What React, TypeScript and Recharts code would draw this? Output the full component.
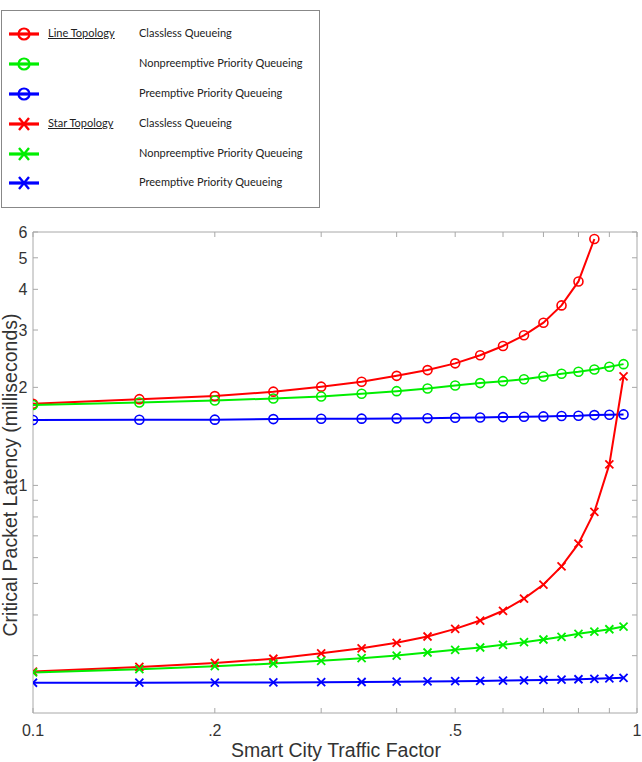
import React from 'react';
import { LineChart, Line, XAxis, YAxis, ReferenceArea } from 'recharts';

// traffic factor sample points (x)
const traffic = [0.1, 0.15, 0.2, 0.25, 0.3, 0.35, 0.4, 0.45, 0.5, 0.55, 0.6, 0.65, 0.7, 0.75, 0.8, 0.85, 0.9, 0.95];

// latency in ms, line topology
const lineClassless = [1.78, 1.84, 1.88, 1.94, 2.01, 2.08, 2.17, 2.26, 2.37, 2.51, 2.68, 2.89, 3.16, 3.57, 4.23, 5.71];
const lineNonpreemptive = [1.765, 1.797, 1.823, 1.849, 1.875, 1.911, 1.947, 1.983, 2.026, 2.061, 2.09, 2.119, 2.159, 2.201, 2.233, 2.27, 2.313, 2.357];
const linePreemptive = [1.588, 1.59, 1.592, 1.598, 1.602, 1.603, 1.606, 1.608, 1.613, 1.617, 1.621, 1.625, 1.629, 1.633, 1.636, 1.644, 1.648, 1.652];

// latency in ms, star topology
const starClassless = [0.268, 0.277, 0.285, 0.2935, 0.305, 0.316, 0.3285, 0.3435, 0.3626, 0.3846, 0.412, 0.449, 0.496, 0.564, 0.6625, 0.829, 1.16, 2.16];
const starNonpreemptive = [0.2665, 0.2727, 0.2785, 0.2838, 0.2893, 0.2946, 0.3003, 0.3068, 0.3127, 0.3178, 0.3239, 0.33, 0.3363, 0.3428, 0.35, 0.3558, 0.3616, 0.3686];
const starPreemptive = [0.2477, 0.2478, 0.248, 0.2482, 0.2486, 0.249, 0.2495, 0.25, 0.2505, 0.251, 0.2515, 0.252, 0.2526, 0.2532, 0.2539, 0.2547, 0.2555, 0.2564];

const xMajorTicks = [0.1, 0.2, 0.5, 1];
const xTickLabels = ['0.1', '.2', '.5', '1'];
const xMinorTicks = [0.3, 0.4, 0.6, 0.7, 0.8, 0.9];
const yMajorTicks = [1, 2, 3, 4, 5, 6];
const yTickLabels = ['1', '2', '3', '4', '5', '6'];
const yMinorTicks = [0.3, 0.4, 0.5, 0.6, 0.7, 0.8, 0.9];

const RED = '#ff0000';
const GREEN = '#00ee00';
const BLUE = '#0000ff';

const series = [
  { key: 'lineClassless', values: lineClassless, color: RED, marker: 'o', group: 'Line Topology', name: 'Classless Queueing' },
  { key: 'lineNonpreemptive', values: lineNonpreemptive, color: GREEN, marker: 'o', group: '', name: 'Nonpreemptive Priority Queueing' },
  { key: 'linePreemptive', values: linePreemptive, color: BLUE, marker: 'o', group: '', name: 'Preemptive Priority Queueing' },
  { key: 'starClassless', values: starClassless, color: RED, marker: 'x', group: 'Star Topology', name: 'Classless Queueing' },
  { key: 'starNonpreemptive', values: starNonpreemptive, color: GREEN, marker: 'x', group: '', name: 'Nonpreemptive Priority Queueing' },
  { key: 'starPreemptive', values: starPreemptive, color: BLUE, marker: 'x', group: '', name: 'Preemptive Priority Queueing' },
];

const data = traffic.map((t, i) => {
  const row: Record<string, number | undefined> = { traffic: t };
  series.forEach((s) => {
    row[s.key] = s.values[i];
  });
  return row;
});

const W = 642;
const H = 762;
const PLOT = { left: 33, top: 232, right: 637, bottom: 713 };
const TICK_LEN = 5;
const FRAME = '#a8a8a8';
const LABEL_FONT = '"Liberation Sans", Arial, sans-serif';

const makeDot = (color: string, marker: string) => (props: any) => {
  const { cx, cy, index } = props;
  if (cx == null || cy == null || Number.isNaN(cy)) return <g key={`d-${index}`} />;
  if (marker === 'o') {
    return <circle key={`d-${index}`} cx={cx} cy={cy} r={4.5} fill="none" stroke={color} strokeWidth={1.6} />;
  }
  const s = 4;
  return (
    <path
      key={`d-${index}`}
      d={`M${cx - s},${cy - s}L${cx + s},${cy + s}M${cx - s},${cy + s}L${cx + s},${cy - s}`}
      stroke={color}
      strokeWidth={1.8}
      fill="none"
    />
  );
};

const XTick = (props: any) => {
  const { x, payload } = props;
  const idx = xMajorTicks.indexOf(payload.value);
  return (
    <g>
      <line x1={x} x2={x} y1={PLOT.bottom} y2={PLOT.bottom - TICK_LEN} stroke={FRAME} />
      <line x1={x} x2={x} y1={PLOT.top} y2={PLOT.top + TICK_LEN} stroke={FRAME} />
      {idx >= 0 && (
        <text x={x} y={736} textAnchor="middle" fontSize={16} fontFamily={LABEL_FONT} fill="#333">
          {xTickLabels[idx]}
        </text>
      )}
    </g>
  );
};

const YTick = (props: any) => {
  const { y, payload } = props;
  const idx = yMajorTicks.indexOf(payload.value);
  return (
    <g>
      <line x1={PLOT.left} x2={PLOT.left + TICK_LEN} y1={y} y2={y} stroke={FRAME} />
      <line x1={PLOT.right} x2={PLOT.right - TICK_LEN} y1={y} y2={y} stroke={FRAME} />
      {idx >= 0 && (
        <text x={27.5} y={y + 6} textAnchor="end" fontSize={16} fontFamily={LABEL_FONT} fill="#333">
          {yTickLabels[idx]}
        </text>
      )}
    </g>
  );
};

const LegendIcon = ({ color, marker }: { color: string; marker: string }) => (
  <svg width={34} height={16} style={{ position: 'absolute', left: 5, top: -8 }}>
    <line x1={2} x2={32} y1={8} y2={8} stroke={color} strokeWidth={3.2} />
    {marker === 'o' ? (
      <circle cx={17} cy={8} r={5.5} fill="none" stroke={color} strokeWidth={2.2} />
    ) : (
      <path d="M12,2L22,14M12,14L22,2" stroke={color} strokeWidth={2.4} fill="none" />
    )}
  </svg>
);

const rowTops = [33, 63, 93, 123, 153, 182];

const LegendBox = () => (
  <div
    style={{
      position: 'absolute',
      left: 1,
      top: 10,
      width: 317,
      height: 196,
      border: '1px solid #888',
      background: '#fff',
      fontFamily: 'Lato, "Open Sans", sans-serif',
      fontSize: 11,
      color: '#222',
    }}
  >
    {series.map((s, i) => (
      <div key={s.key} style={{ position: 'absolute', left: 0, top: rowTops[i] - 10, width: '100%', height: 0 }}>
        <LegendIcon color={s.color} marker={s.marker} />
        {s.group && (
          <span style={{ position: 'absolute', left: 46, top: -8, textDecoration: 'underline', whiteSpace: 'nowrap' }}>
            {s.group}
          </span>
        )}
        <span style={{ position: 'absolute', left: 137, top: -8, whiteSpace: 'nowrap' }}>{s.name}</span>
      </div>
    ))}
  </div>
);

export default function App() {
  return (
    <div style={{ position: 'relative', width: W, height: H }}>
      <style>{'body { margin: 0; }'}</style>
      <LineChart
        width={W}
        height={H}
        data={data}
        margin={{ top: PLOT.top, right: W - PLOT.right, bottom: 0, left: 0 }}
      >
        <XAxis
          dataKey="traffic"
          type="number"
          scale="log"
          domain={[0.1, 1]}
          ticks={[...xMajorTicks, ...xMinorTicks]}
          interval={0}
          allowDataOverflow
          height={H - PLOT.bottom}
          axisLine={false}
          tickLine={false}
          tick={XTick}
          label={() => (
            <text x={336} y={757} textAnchor="middle" fontSize={19.5} fontFamily={LABEL_FONT} fill="#333">
              Smart City Traffic Factor
            </text>
          )}
        />
        <YAxis
          type="number"
          scale="log"
          domain={[0.2, 6]}
          ticks={[...yMinorTicks, ...yMajorTicks]}
          interval={0}
          allowDataOverflow
          width={PLOT.left}
          axisLine={false}
          tickLine={false}
          tick={YTick}
          label={() => (
            <text
              x={17}
              y={475}
              transform="rotate(-90 17 475)"
              textAnchor="middle"
              fontSize={19.5}
              fontFamily={LABEL_FONT}
              fill="#333"
            >
              Critical Packet Latency (milliseconds)
            </text>
          )}
        />
        <ReferenceArea x1={0.1} x2={1} y1={0.2} y2={6} fill="none" stroke={FRAME} strokeWidth={1} />
        {series.map((s) => (
          <Line
            key={s.key}
            type="linear"
            dataKey={s.key}
            stroke={s.color}
            strokeWidth={2}
            dot={makeDot(s.color, s.marker)}
            activeDot={false}
            isAnimationActive={false}
          />
        ))}
      </LineChart>
      <LegendBox />
    </div>
  );
}
